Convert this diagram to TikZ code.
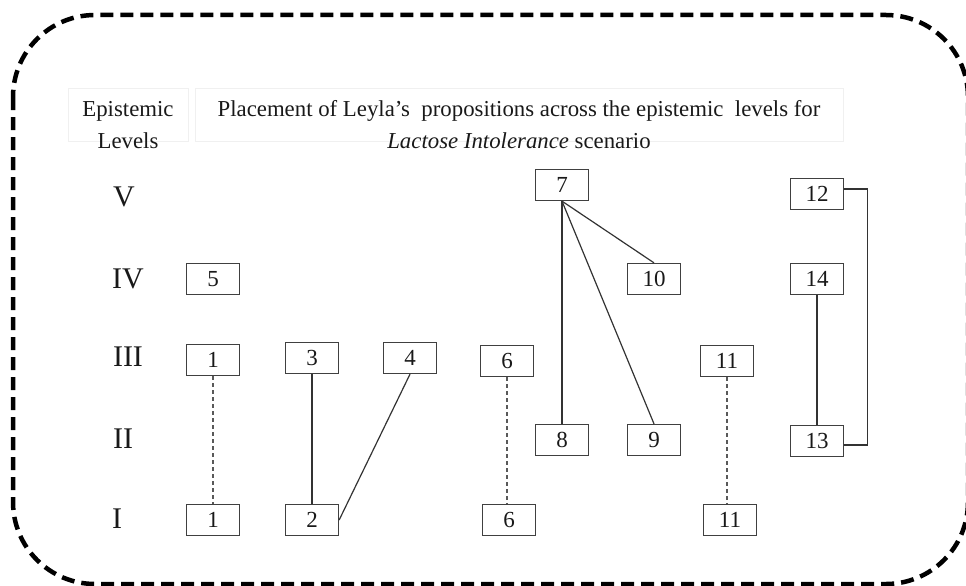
\documentclass[tikz,border=0pt]{standalone}
\usepackage{fontspec}
\setmainfont{Liberation Serif}
\begin{document}
\begin{tikzpicture}[x=1pt,y=-1pt,
  prop/.style={draw=black!75,line width=1.3pt,minimum width=53pt,minimum height=31pt,inner sep=0pt,
    font=\fontsize{23}{23}\selectfont,text=black!90},
  lvl/.style={font=\fontsize{30}{30}\selectfont,text=black!90},
  head/.style={font=\fontsize{22.8}{32}\selectfont,text=black!90,align=center},
  link/.style={draw=black!80,line width=1.2pt},
  same/.style={draw=black!65,line width=1.2pt,dash pattern=on 4pt off 3pt},
  frame/.style={draw=black,line width=4.5pt,dash pattern=on 13pt off 7pt,rounded corners=82pt}]
\useasboundingbox (0,0) rectangle (966,586);
% outer dashed frame
\draw[frame] (13,15) rectangle (968,584);
% faint header cells
\draw[black!6,line width=0.8pt] (68,88) rectangle (188,141);
\draw[black!6,line width=0.8pt] (195,88) rectangle (843,141);
\node[head] (hl) at (128,125) {Epistemic\\Levels};
\node[head] (ht) at (519,125) {Placement of Leyla’s\ \ propositions across the epistemic\ \ levels for\\\textit{Lactose Intolerance} scenario};
% level labels
\node[lvl] (lV)   at (124,197) {V};
\node[lvl] (lIV)  at (128,279) {IV};
\node[lvl] (lIII) at (128,357) {III};
\node[lvl] (lII)  at (123,439) {II};
\node[lvl] (lI)   at (117,519) {I};
% propositions
\node[prop] (p5)   at (213,279) {5};
\node[prop] (p1a)  at (213,360) {1};
\node[prop] (p1b)  at (213,520) {1};
\node[prop] (p3)   at (312,358) {3};
\node[prop] (p2)   at (312,520) {2};
\node[prop] (p4)   at (410,358) {4};
\node[prop] (p6a)  at (507,361) {6};
\node[prop] (p6b)  at (509,520) {6};
\node[prop] (p7)   at (562,185) {7};
\node[prop] (p10)  at (654,279) {10};
\node[prop] (p8)   at (562,440) {8};
\node[prop] (p9)   at (654,440) {9};
\node[prop] (p11a) at (727,361) {11};
\node[prop] (p11b) at (730,520) {11};
\node[prop] (p12)  at (817,194) {12};
\node[prop] (p14)  at (817,279) {14};
\node[prop] (p13)  at (817,441) {13};
% connectors
\draw[same] (p1a.south) -- (p1b.north);
\draw[same] (p6a.south) -- (p6a.south |- p6b.north);
\draw[same] (p11a.south) -- (p11a.south |- p11b.north);
\draw[link] (p3.south) -- (p2.north);
\draw[link] (p4.south) -- (p2.east);
\draw[link] (p7.south) -- (p10.north);
\draw[link] (p7.south) -- (p9.north);
\draw[link] (p7.south) -- (p8.north);
\draw[link] (p14.south) -- (p13.north);
\draw[link] ([yshift=5pt]p12.east) -- ++(23,0) |- ([yshift=-4pt]p13.east);
\end{tikzpicture}
\end{document}
